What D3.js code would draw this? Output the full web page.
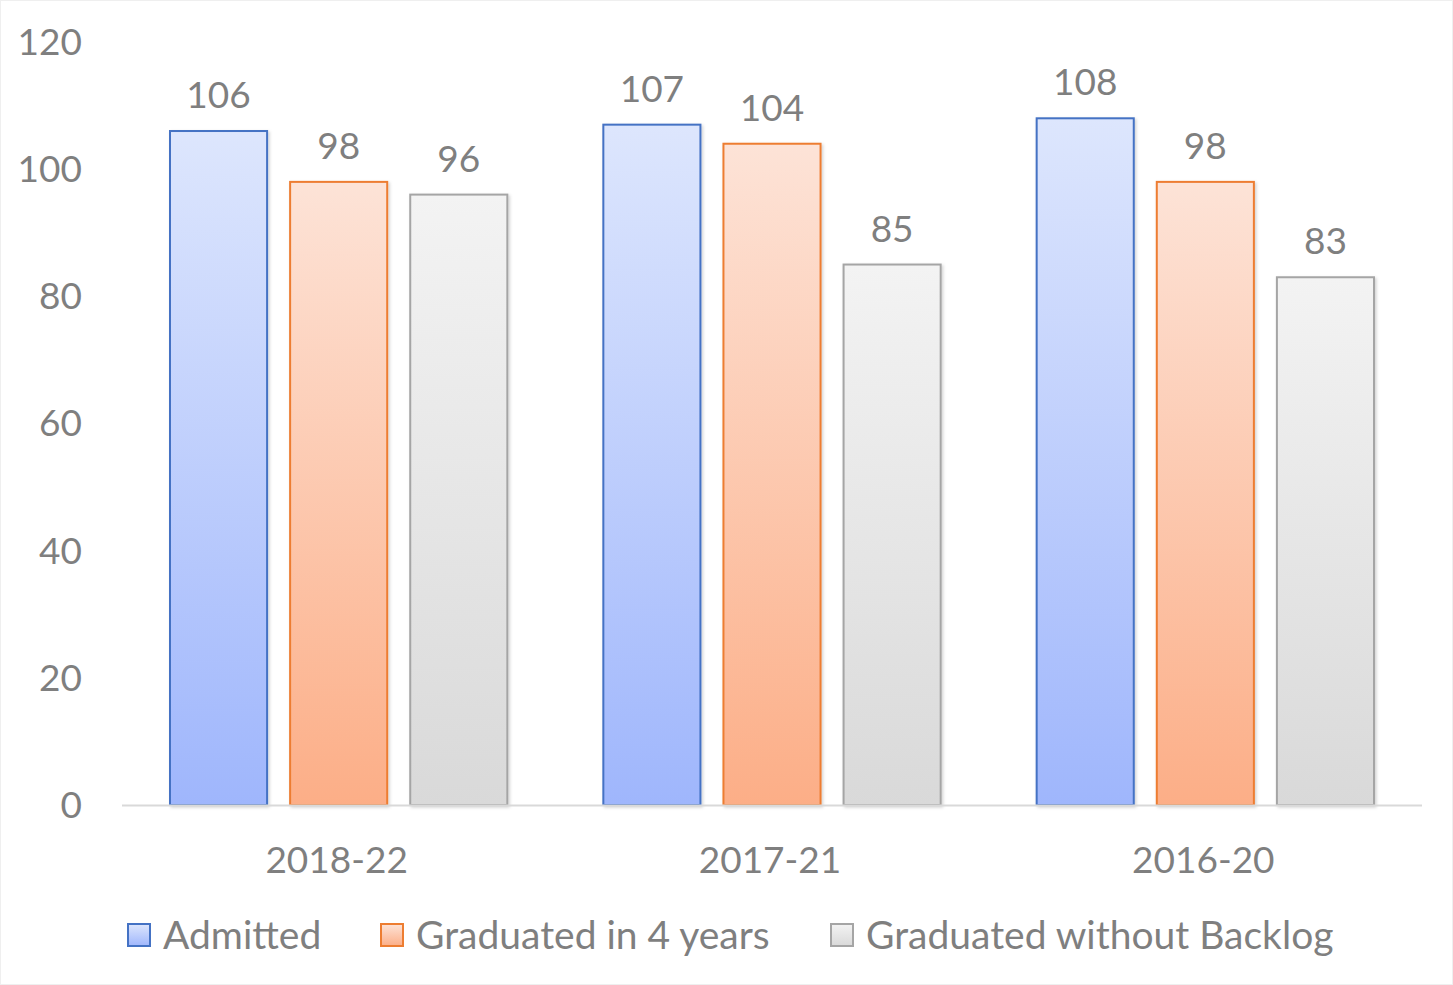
<!DOCTYPE html>
<html><head><meta charset="utf-8">
<script src="https://cdnjs.cloudflare.com/ajax/libs/d3/7.8.5/d3.min.js"></script>
<style>body{margin:0;background:#fff}svg{display:block}</style>
</head><body>
<svg id="chart" width="1453" height="985"></svg>
<script>
const categories = ["2018-22", "2017-21", "2016-20"];
const seriesNames = ["Admitted", "Graduated in 4 years", "Graduated without Backlog"];
const admitted = [106, 107, 108];
const graduated4 = [98, 104, 98];
const noBacklog = [96, 85, 83];
const yTicks = [0, 20, 40, 60, 80, 100, 120];

const seriesValues = [admitted, graduated4, noBacklog];
const colors = [
  {top: "#dde6fd", bottom: "#9fb6fc", stroke: "#4472c4"},
  {top: "#fde3d7", bottom: "#fcae87", stroke: "#ed7d31"},
  {top: "#f3f3f3", bottom: "#d9d9d9", stroke: "#a5a5a5"}
];
const font = "Lato, 'Open Sans', sans-serif";
const textColor = "#7f7f7f";

const svg = d3.select("#chart");
const W = 1453, H = 985;
svg.append("rect").attr("x", 0.5).attr("y", 0.5).attr("width", W - 1).attr("height", H - 1)
  .attr("fill", "#fff").attr("stroke", "#efefef");

const defs = svg.append("defs");
colors.forEach((c, i) => {
  const g = defs.append("linearGradient").attr("id", "grad" + i)
    .attr("x1", 0).attr("y1", 0).attr("x2", 0).attr("y2", 1);
  g.append("stop").attr("offset", "0%").attr("stop-color", c.top);
  g.append("stop").attr("offset", "100%").attr("stop-color", c.bottom);
});
const f = defs.append("filter").attr("id", "shadow").attr("x", "-10%").attr("y", "-10%").attr("width", "130%").attr("height", "130%");
f.append("feDropShadow").attr("dx", 1.5).attr("dy", 1.5).attr("stdDeviation", 1.5).attr("flood-color", "#000").attr("flood-opacity", 0.18);

const plotLeft = 122, plotRight = 1422, plotTop = 42, plotBottom = 805;
const y = d3.scaleLinear().domain([0, 120]).range([plotBottom, plotTop]);
const x0 = d3.scaleBand().domain(categories).range([plotLeft, plotRight]).padding(0);
const groupPad = 48;
const x1 = d3.scaleBand().domain(d3.range(3)).range([groupPad, x0.bandwidth() - groupPad]).paddingInner(23 / 120).paddingOuter(0);

// y labels
svg.append("g").selectAll("text").data(yTicks).join("text")
  .attr("x", 82).attr("y", d => y(d)).attr("dy", "0.35em")
  .attr("text-anchor", "end").attr("font-family", font).attr("font-size", 37)
  .attr("fill", textColor).text(d => d);

// bars
const groups = svg.append("g").selectAll("g").data(categories).join("g")
  .attr("transform", c => `translate(${x0(c)},0)`);
groups.each(function(c, ci) {
  const g = d3.select(this);
  seriesValues.forEach((vals, si) => {
    const v = vals[ci];
    g.append("rect")
      .attr("x", x1(si)).attr("y", y(v))
      .attr("width", x1.bandwidth()).attr("height", y(0) - y(v))
      .attr("fill", `url(#grad${si})`).attr("stroke", colors[si].stroke).attr("stroke-width", 2)
      .attr("filter", "url(#shadow)");
    g.append("text")
      .attr("x", x1(si) + x1.bandwidth() / 2).attr("y", y(v) - 23)
      .attr("text-anchor", "middle").attr("font-family", font).attr("font-size", 37)
      .attr("fill", textColor).text(v);
  });
});

// x axis line
svg.append("line").attr("x1", plotLeft).attr("x2", plotRight).attr("y1", plotBottom + 0.5).attr("y2", plotBottom + 0.5)
  .attr("stroke", "#d9d9d9").attr("stroke-width", 2);

// category labels
svg.append("g").selectAll("text").data(categories).join("text")
  .attr("x", c => x0(c) + x0.bandwidth() / 2 - 2).attr("y", 860).attr("dy", "0.35em")
  .attr("text-anchor", "middle").attr("font-family", font).attr("font-size", 37)
  .attr("fill", textColor).text(c => c);

// legend
const legendX = [128, 381, 831];
const leg = svg.append("g").selectAll("g").data(seriesNames).join("g")
  .attr("transform", (d, i) => `translate(${legendX[i]},935)`);
leg.append("rect").attr("x", 0).attr("y", -11).attr("width", 22).attr("height", 22)
  .attr("fill", (d, i) => `url(#grad${i})`).attr("stroke", (d, i) => colors[i].stroke).attr("stroke-width", 2);
leg.append("text").attr("x", 35).attr("y", 0).attr("dy", "0.35em")
  .attr("font-family", font).attr("font-size", 39).attr("fill", textColor).text(d => d);
</script>
</body></html>
